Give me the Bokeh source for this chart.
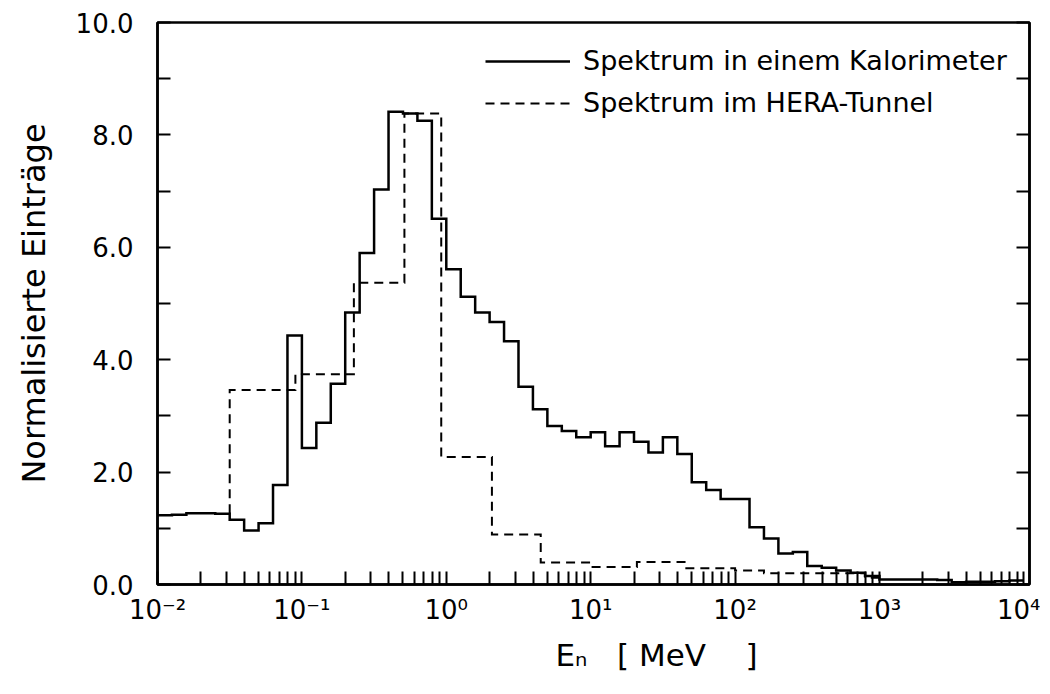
from bokeh.plotting import figure
from bokeh.models import (Range1d, FixedTicker, LinearAxis, CustomJSTickFormatter,
                          NumeralTickFormatter, Legend, LegendItem, Title)
from bokeh.embed import file_html
from bokeh.resources import INLINE

# ---------------- data ----------------
# solid histogram: bins of 0.1 decade, log10(E/MeV) edges -2.0 ... 4.0
kalorimeter_log_edges = [
    -2.0, -1.9, -1.8, -1.7, -1.6, -1.5, -1.4, -1.3, -1.2, -1.1,
    -1.0, -0.9, -0.8, -0.7, -0.6, -0.5, -0.4, -0.3, -0.2, -0.1,
    0.0, 0.1, 0.2, 0.3, 0.4, 0.5, 0.6, 0.7, 0.8, 0.9,
    1.0, 1.1, 1.2, 1.3, 1.4, 1.5, 1.6, 1.7, 1.8, 1.9,
    2.0, 2.1, 2.2, 2.3, 2.4, 2.5, 2.6, 2.7, 2.8, 2.9,
    3.0, 3.1, 3.2, 3.3, 3.4, 3.5, 3.6, 3.7, 3.8, 3.9, 4.0]
kalorimeter_values = [
    1.23, 1.24, 1.27, 1.27, 1.26, 1.15, 0.96, 1.09, 1.77, 4.43,
    2.43, 2.88, 3.57, 4.84, 5.90, 7.03, 8.41, 8.38, 8.25, 6.51,
    5.61, 5.12, 4.84, 4.67, 4.33, 3.52, 3.12, 2.82, 2.73, 2.62,
    2.71, 2.46, 2.71, 2.54, 2.35, 2.62, 2.32, 1.82, 1.68, 1.52,
    1.52, 1.02, 0.82, 0.55, 0.58, 0.33, 0.30, 0.25, 0.21, 0.15,
    0.09, 0.09, 0.09, 0.09, 0.08, 0.04, 0.05, 0.05, 0.06, 0.07]

# dashed histogram (HERA tunnel), variable bins
tunnel_log_edges = [-1.50, -1.045, -0.64, -0.29, -0.035, 0.316, 0.654,
                    1.0, 1.32, 1.65, 2.0, 2.2, 2.9, 3.0]
tunnel_values = [3.46, 3.74, 5.37, 8.38, 2.27, 0.89, 0.39,
                 0.31, 0.40, 0.29, 0.25, 0.20, 0.12]
tunnel_start_level = 1.27

x_major_ticks = [1e-2, 1e-1, 1e0, 1e1, 1e2, 1e3, 1e4]
x_minor_ticks = [k * d for d in [1e-2, 1e-1, 1e0, 1e1, 1e2, 1e3] for k in range(2, 10)]
y_major_ticks = [0, 2, 4, 6, 8, 10]
y_minor_ticks = [1, 3, 5, 7, 9]

legend_labels = ["Spektrum in einem Kalorimeter", "Spektrum im HERA-Tunnel"]
y_title = "Normalisierte Einträge"
NB = "\u00a0"
x_title = "E\u2099" + NB * 3 + "[" + NB + "MeV" + NB * 4 + "]"


def step_path(log_edges, values, start):
    edges = [10 ** e for e in log_edges]
    xs, ys = [edges[0]], [start]
    for i, v in enumerate(values):
        xs += [edges[i], edges[i + 1]]
        ys += [v, v]
    return xs, ys


FONT = "DejaVu Sans"

p = figure(width=1040, height=684, x_axis_type="log",
           x_range=Range1d(0.01, 10 ** 4.039), y_range=Range1d(0, 10),
           output_backend="svg", toolbar_location=None,
           min_border_left=157, min_border_right=11,
           min_border_top=22, min_border_bottom=100)
p.grid.visible = False
p.background_fill_color = "white"
p.border_fill_color = "white"
p.outline_line_color = "black"
p.outline_line_width = 2.5

kx, ky = step_path(kalorimeter_log_edges, kalorimeter_values, kalorimeter_values[0])
tx, ty = step_path(tunnel_log_edges, tunnel_values, tunnel_start_level)

r_solid = p.line(kx, ky, line_color="black", line_width=2.5, line_join="miter")
r_dash = p.line(tx, ty, line_color="black", line_width=2, line_dash="9 6",
                line_join="miter")

# x axis
xa = p.xaxis[0]
xa.ticker = FixedTicker(ticks=x_major_ticks, minor_ticks=x_minor_ticks)
xa.formatter = CustomJSTickFormatter(code="""
const sup = {'-':'\u207b','0':'\u2070','1':'\u00b9','2':'\u00b2','3':'\u00b3',
             '4':'\u2074','5':'\u2075','6':'\u2076','7':'\u2077','8':'\u2078','9':'\u2079'};
const e = Math.round(Math.log10(tick));
return '10' + String(e).split('').map(c => sup[c]).join('');
""")
xa.major_tick_in = 13
xa.major_tick_out = 0
xa.minor_tick_in = 13
xa.minor_tick_out = 0
xa.major_tick_line_width = 2
xa.minor_tick_line_width = 2
xa.axis_line_width = 2.5
xa.major_label_text_font = FONT
xa.major_label_text_font_size = "26px"
xa.major_label_text_color = "black"
xa.major_label_standoff = 10

# y axis
ya = p.yaxis[0]
ya.ticker = FixedTicker(ticks=y_major_ticks, minor_ticks=y_minor_ticks)
ya.formatter = NumeralTickFormatter(format="0.0")
ya.major_tick_in = 13
ya.major_tick_out = 0
ya.minor_tick_in = 13
ya.minor_tick_out = 0
ya.major_tick_line_width = 2
ya.minor_tick_line_width = 2
ya.axis_line_width = 2.5
ya.major_label_text_font = FONT
ya.major_label_text_font_size = "26px"
ya.major_label_text_color = "black"
ya.major_label_standoff = 24
ya.axis_label = y_title
ya.axis_label_text_font = FONT
ya.axis_label_text_font_size = "32px"
ya.axis_label_text_font_style = "normal"
ya.axis_label_text_color = "black"
ya.axis_label_standoff = 20

# right axis with inward ticks, no labels
ra = LinearAxis(ticker=FixedTicker(ticks=y_major_ticks, minor_ticks=y_minor_ticks),
                formatter=CustomJSTickFormatter(code="return '';"),
                major_tick_in=13, major_tick_out=0, minor_tick_in=13, minor_tick_out=0,
                major_tick_line_width=2, minor_tick_line_width=2,
                axis_line_width=2.5, major_label_standoff=0,
                major_label_text_font_size="1px")
p.add_layout(ra, "right")

# x axis title as a bottom title, shifted like the original
xt = Title(text=x_title, align="left", offset=398, text_font=FONT,
           text_font_size="31px", text_font_style="normal", text_color="black",
           standoff=14)
p.add_layout(xt, "below")

legend = Legend(items=[LegendItem(label=legend_labels[0], renderers=[r_solid]),
                       LegendItem(label=legend_labels[1], renderers=[r_dash])],
                location=(328, 466), orientation="vertical",
                glyph_width=85, glyph_height=30, label_height=30,
                label_standoff=13, spacing=11, padding=0, margin=0,
                border_line_color=None, background_fill_alpha=0,
                label_text_font=FONT, label_text_font_size="27px",
                label_text_color="black")
p.add_layout(legend)

open("out.html", "w").write(file_html(p, INLINE))
